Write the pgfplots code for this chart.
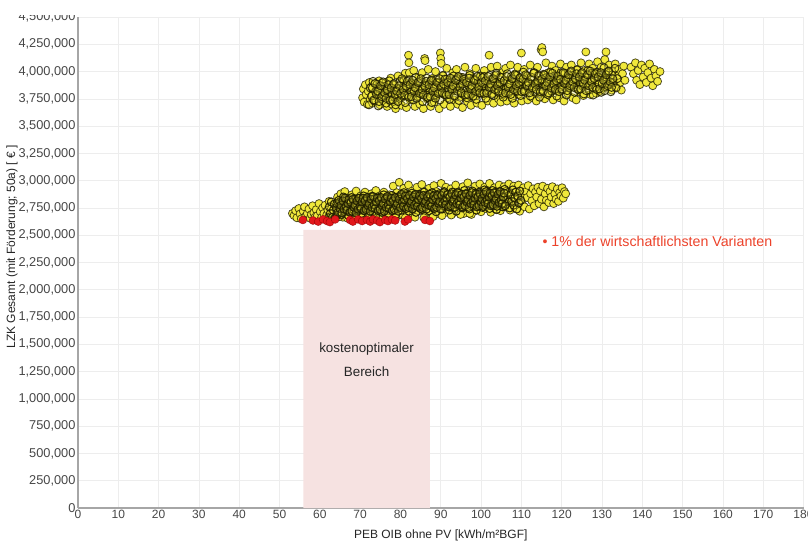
\documentclass[border=0pt]{standalone}
\usepackage{pgfplots}
\pgfplotsset{compat=1.18}
\usepackage{fontspec}
\setmainfont{Liberation Sans}
\definecolor{yel}{RGB}{240,232,60}
\definecolor{edge}{RGB}{32,30,0}
\definecolor{redpt}{RGB}{226,24,28}
\definecolor{pinkbg}{RGB}{246,226,225}
\definecolor{redtxt}{RGB}{236,66,42}
\definecolor{tickc}{RGB}{70,70,70}
\begin{document}
\begin{tikzpicture}
\useasboundingbox (0,0) rectangle (808pt,542pt);
\begin{axis}[
  at={(78pt,34pt)}, anchor=south west,
  scale only axis, width=725.5pt, height=491pt,
  xmin=0, xmax=180, ymin=0, ymax=4500,
  xtick={0,10,...,180},
  ytick={0,250,...,4500},
  yticklabels={0,{250,000},{500,000},{750,000},{1,000,000},{1,250,000},{1,500,000},{1,750,000},{2,000,000},{2,250,000},{2,500,000},{2,750,000},{3,000,000},{3,250,000},{3,500,000},{3,750,000},{4,000,000},{4,250,000},{4,500,000}},
  /pgf/number format/assume math mode=true,
  font=\fontsize{12}{14}\selectfont,
  xticklabel style={font=\fontsize{12}{14}\selectfont, text=tickc, yshift=1pt},
  yticklabel style={font=\fontsize{12.8}{14}\selectfont, text=tickc, xshift=1pt},
  major tick length=0pt,
  axis x line*=bottom, axis y line*=left,
  axis line style={draw=black!35, line width=1.2pt, -},
  grid=major,
  major grid style={draw=black!7, line width=0.6pt},
  every axis x label/.style={at={(axis description cs:0.5,-0.055)}, anchor=center},
  every axis y label/.style={at={(axis description cs:-0.091,0.532)}, rotate=90, anchor=center},
  xlabel={PEB OIB ohne PV [kWh/m²BGF]},
  ylabel={LZK Gesamt (mit Förderung; 50a) [ € ]},
  label style={font=\fontsize{12}{14}\selectfont, text=black!85},
  clip=false,
  yel/.style={only marks, mark=*, mark size=4pt, mark options={fill=yel, draw=edge, draw opacity=0.8, line width=0.75pt}},
  yelcore/.style={only marks, mark=*, mark size=4pt, mark options={fill=yel, fill opacity=0.28, draw=edge, draw opacity=0.88, line width=0.95pt}},
  yelcoredark/.style={only marks, mark=*, mark size=4pt, mark options={fill=yel, fill opacity=0.2, draw=edge, draw opacity=0.92, line width=1.05pt}},
]
% cost-optimal region
\addplot[fill=pinkbg, draw=none] coordinates {(55.9,0) (87.3,0) (87.3,2550) (55.9,2550)} \closedcycle;

% lower cluster (yellow)
\addplot[yel] coordinates {
(53.2,2700) (53.6,2680) (54.0,2725) (54.3,2660) (54.8,2745) (55.1,2695) (55.4,2650) (55.9,2720) (56.2,2760) (56.5,2675) (56.9,2700) (57.3,2740) (57.6,2655) (57.9,2690)
(58.2,2770) (58.5,2705) (58.8,2665) (59.1,2735) (59.4,2680) (59.8,2790) (60.1,2715) (60.4,2660) (60.7,2750) (61.0,2700) (61.3,2775) (61.7,2685) (62.0,2730) (62.3,2810) (62.6,2670) (62.9,2745) (63.2,2700) (63.5,2785) (63.8,2660) (64.1,2725)
(64.4,2850) (64.6,2690) (64.9,2770) (65.2,2880) (65.4,2730) (65.7,2665) (66.0,2810) (66.2,2900) (66.5,2745) (66.8,2690) (67.1,2840) (67.3,2775) (67.6,2660) (67.9,2870) (68.1,2720) (68.4,2800) (68.7,2680) (69.0,2905) (69.2,2755) (69.5,2830) (69.8,2700) (70.1,2860) (70.3,2665) (70.6,2790) (70.9,2740) (71.2,2895) (71.4,2815) (71.7,2690) (72.0,2850) (72.3,2760) (72.5,2675) (72.8,2880) (73.1,2805) (73.4,2720) (73.7,2840) (73.9,2910) (74.2,2700) (74.5,2785) (74.8,2860) (75.0,2670) (75.3,2825) (75.6,2750) (75.9,2895) (76.2,2710) (76.4,2840) (76.7,2780) (77.0,2680) (77.3,2870) (77.6,2800) (77.9,2735)
(78.2,2950) (78.5,2820) (78.8,2710) (79.1,2890) (79.4,2770) (79.7,2985) (80.0,2690) (80.2,2860) (80.5,2800) (80.8,2930) (81.1,2740) (81.4,2880) (81.7,2700) (82.0,2960) (82.3,2830) (82.6,2760) (82.9,2905) (83.2,2690) (83.5,2850) (83.8,2790) (84.1,2940) (84.4,2720) (84.7,2870) (85.0,2815) (85.3,2965) (85.6,2740) (85.9,2895) (86.2,2680) (86.5,2845) (86.8,2780) (87.1,2930) (87.4,2710) (87.7,2880) (88.0,2820) (88.3,2955) (88.6,2750) (88.9,2900) (89.2,2700) (89.5,2860) (89.8,2795) (90.1,2975) (90.4,2730) (90.7,2885) (91.0,2830) (91.3,2940) (91.6,2710) (91.9,2870) (92.2,2770) (92.5,2925) (92.8,2695) (93.1,2850) (93.4,2805) (93.7,2960) (94.0,2740) (94.3,2895) (94.6,2720) (94.9,2840) (95.2,2785) (95.5,2945) (95.8,2700) (96.1,2875) (96.4,2820) (96.7,2980) (97.0,2755) (97.3,2905) (97.6,2690) (97.9,2860) (98.2,2800) (98.5,2950) (98.8,2730) (99.1,2885) (99.4,2835) (99.7,2970) (100.0,2715)
(100.3,2870) (100.6,2795) (100.9,2940) (101.2,2745) (101.5,2900) (101.8,2830) (102.1,2975) (102.4,2710) (102.7,2860) (103.0,2780) (103.3,2935) (103.6,2740) (103.9,2890) (104.2,2815) (104.5,2960) (104.8,2725) (105.1,2875) (105.4,2800) (105.7,2945) (106.0,2760) (106.3,2905) (106.6,2840) (106.9,2970) (107.2,2730) (107.5,2880) (107.8,2810) (108.1,2950) (108.4,2750) (108.7,2895) (109.0,2835) (109.3,2960) (109.6,2720) (109.9,2870) (110.2,2790) (110.5,2935) (110.8,2760) (111.1,2900) (111.4,2845) (111.7,2955) (112.0,2740) (112.3,2880) (112.6,2815) (112.9,2925) (113.2,2770) (113.5,2895) (113.8,2850) (114.1,2940) (114.4,2790) (114.7,2905) (115.0,2830) (115.3,2950) (115.6,2760) (115.9,2880) (116.2,2820) (116.5,2930) (116.8,2800) (117.1,2900) (117.4,2850) (117.7,2945) (118.0,2790) (118.3,2880) (118.6,2830) (118.9,2925) (119.2,2810) (119.5,2890) (119.8,2860) (120.1,2935) (120.4,2840) (120.7,2900) (121.0,2880)
(65.5,2790) (66.6,2760) (67.7,2815) (68.8,2745) (69.9,2800) (71.0,2770) (72.1,2825) (73.2,2755) (74.3,2810) (75.4,2780) (76.5,2745) (77.6,2830) (78.7,2790) (79.8,2850) (80.9,2770) (82.0,2815) (83.1,2760) (84.2,2835) (85.3,2790) (86.4,2860) (87.5,2770) (88.6,2840) (89.7,2800) (90.8,2760) (91.9,2845) (93.0,2790) (94.1,2820) (95.2,2860) (96.3,2775) (97.4,2830) (98.5,2800) (99.6,2855) (100.7,2780) (101.8,2840) (102.9,2810) (104.0,2860) (105.1,2780) (106.2,2830) (107.3,2800) (108.4,2850)
(64.8,2670) (66.9,2655) (68.3,2650) (70.4,2660) (72.6,2650) (74.7,2655) (76.8,2660) (78.9,2665) (81.2,2660) (83.6,2665) (85.8,2660) (88.1,2670) (90.3,2680) (92.6,2685) (94.9,2690) (97.2,2700)
};
\addplot[yelcoredark] coordinates {
(62.1,2660) (62.35,2760) (62.6,2700) (62.85,2805) (63.1,2665) (63.35,2730) (63.6,2785) (63.85,2660) (64.1,2750) (64.35,2685) (64.6,2795) (64.85,2710)
(65.1,2810) (65.35,2690) (65.6,2780) (65.85,2850) (66.1,2715) (66.35,2760) (66.6,2820) (66.85,2735) (67.1,2680) (67.35,2800) (67.6,2740) (67.85,2845) (68.1,2705) (68.35,2770) (68.6,2825) (68.85,2670) (69.1,2790) (69.35,2725) (69.6,2835) (69.85,2750)
(70.1,2820) (70.35,2700) (70.6,2790) (70.85,2860) (71.1,2725) (71.35,2770) (71.6,2830) (71.85,2745) (72.1,2690) (72.35,2810) (72.6,2750) (72.85,2855) (73.1,2715) (73.35,2780) (73.6,2835) (73.85,2680) (74.1,2800) (74.35,2735) (74.6,2845) (74.85,2760)
(75.1,2830) (75.35,2710) (75.6,2800) (75.85,2870) (76.1,2735) (76.35,2780) (76.6,2840) (76.85,2755) (77.1,2700) (77.35,2820) (77.6,2760) (77.85,2865) (78.1,2725) (78.35,2790) (78.6,2845) (78.85,2690) (79.1,2810) (79.35,2745) (79.6,2855) (79.85,2770)
(80.1,2850) (80.35,2730) (80.6,2820) (80.85,2890) (81.1,2755) (81.35,2800) (81.6,2860) (81.85,2775) (82.1,2720) (82.35,2840) (82.6,2780) (82.85,2885) (83.1,2745) (83.35,2810) (83.6,2865) (83.85,2710) (84.1,2830) (84.35,2765) (84.6,2875) (84.85,2790)
(85.1,2855) (85.35,2735) (85.6,2825) (85.85,2895) (86.1,2760) (86.35,2805) (86.6,2865) (86.85,2780) (87.1,2725) (87.35,2845) (87.6,2785) (87.85,2890) (88.1,2750) (88.35,2815) (88.6,2870) (88.85,2715) (89.1,2835) (89.35,2770) (89.6,2880) (89.85,2795)
(90.1,2860) (90.35,2740) (90.6,2830) (90.85,2900) (91.1,2765) (91.35,2810) (91.6,2870) (91.85,2785) (92.1,2730) (92.35,2850) (92.6,2790) (92.85,2895) (93.1,2755) (93.35,2820) (93.6,2875) (93.85,2720) (94.1,2840) (94.35,2775) (94.6,2885) (94.85,2800)
(95.1,2870) (95.35,2750) (95.6,2840) (95.85,2910) (96.1,2775) (96.35,2820) (96.6,2880) (96.85,2795) (97.1,2740) (97.35,2860) (97.6,2800) (97.85,2905) (98.1,2765) (98.35,2830) (98.6,2885) (98.85,2730) (99.1,2850) (99.35,2785) (99.6,2895) (99.85,2810)
(100.1,2875) (100.35,2755) (100.6,2845) (100.85,2915) (101.1,2780) (101.35,2825) (101.6,2885) (101.85,2800) (102.1,2745) (102.35,2865) (102.6,2805) (102.85,2910) (103.1,2770) (103.35,2835) (103.6,2890) (103.85,2735) (104.1,2855) (104.35,2790) (104.6,2900) (104.85,2815)
(105.1,2880) (105.35,2760) (105.6,2850) (105.85,2920) (106.1,2785) (106.35,2830) (106.6,2890) (106.85,2805) (107.1,2750) (107.35,2870) (107.6,2810) (107.85,2915) (108.1,2775) (108.35,2840) (108.6,2895) (108.85,2740) (109.1,2860) (109.35,2795) (109.6,2905) (109.85,2820)
(64.22,2790) (64.47,2710) (64.72,2820) (64.97,2745) (65.22,2775) (65.47,2705) (65.72,2815) (65.97,2740) (66.22,2840) (66.47,2765) (66.72,2730) (66.97,2790) (67.22,2825) (67.47,2710) (67.72,2800) (67.97,2720) (68.22,2830) (68.47,2755) (68.72,2775) (68.97,2705) (69.22,2815) (69.47,2740) (69.72,2840) (69.97,2765)
(70.22,2745) (70.47,2805) (70.72,2840) (70.97,2725) (71.22,2815) (71.47,2735) (71.72,2845) (71.97,2770) (72.22,2790) (72.47,2720) (72.72,2830) (72.97,2755) (73.22,2855) (73.47,2780) (73.72,2745) (73.97,2805) (74.22,2840) (74.47,2725) (74.72,2815) (74.97,2735)
(75.22,2845) (75.47,2770) (75.72,2790) (75.97,2720) (76.22,2830) (76.47,2755) (76.72,2855) (76.97,2780) (77.22,2745) (77.47,2805) (77.72,2840) (77.97,2725) (78.22,2815) (78.47,2735) (78.72,2845) (78.97,2770) (79.22,2790) (79.47,2720) (79.72,2830) (79.97,2755)
(80.22,2875) (80.47,2800) (80.72,2765) (80.97,2825) (81.22,2860) (81.47,2745) (81.72,2835) (81.97,2755) (82.22,2865) (82.47,2790) (82.72,2810) (82.97,2740) (83.22,2850) (83.47,2775) (83.72,2875) (83.97,2800) (84.22,2765) (84.47,2825) (84.72,2860) (84.97,2745)
(85.22,2835) (85.47,2755) (85.72,2865) (85.97,2790) (86.22,2810) (86.47,2740) (86.72,2850) (86.97,2775) (87.22,2875) (87.47,2800) (87.72,2765) (87.97,2825) (88.22,2860) (88.47,2745) (88.72,2835) (88.97,2755) (89.22,2865) (89.47,2790) (89.72,2810) (89.97,2740)
(90.22,2865) (90.47,2790) (90.72,2890) (90.97,2815) (91.22,2780) (91.47,2840) (91.72,2875) (91.97,2760) (92.22,2850) (92.47,2770) (92.72,2880) (92.97,2805) (93.22,2825) (93.47,2755) (93.72,2865) (93.97,2790) (94.22,2890) (94.47,2815) (94.72,2780) (94.97,2840)
(95.22,2875) (95.47,2760) (95.72,2850) (95.97,2770) (96.22,2880) (96.47,2805) (96.72,2825) (96.97,2755) (97.22,2865) (97.47,2790) (97.72,2890) (97.97,2815) (98.22,2780) (98.47,2840) (98.72,2875) (98.97,2760) (99.22,2850) (99.47,2770) (99.72,2880) (99.97,2805)
(100.22,2835) (100.47,2765) (100.72,2875) (100.97,2800) (101.22,2900) (101.47,2825) (101.72,2790) (101.97,2850) (102.22,2885) (102.47,2770) (102.72,2860) (102.97,2780) (103.22,2890) (103.47,2815) (103.72,2835) (103.97,2765) (104.22,2875) (104.47,2800) (104.72,2900) (104.97,2825) (105.22,2790) (105.47,2850) (105.72,2885) (105.97,2770)
};

% upper cluster (yellow)
\addplot[yel] coordinates {
(70.6,3760) (70.8,3840) (71.0,3720) (71.3,3880) (71.5,3790) (71.8,3700) (72.0,3820) (72.3,3900) (72.5,3745) (72.8,3860) (73.1,3710) (73.3,3800) (73.6,3890) (73.9,3735) (74.1,3840) (74.4,3770) (74.7,3915) (74.9,3695) (75.2,3815) (75.5,3860) (75.8,3730)
(76.1,3790) (76.4,3900) (76.7,3680) (77.0,3845) (77.3,3760) (77.6,3940) (77.9,3700) (78.2,3820) (78.5,3880) (78.8,3660) (79.1,3775) (79.4,3960) (79.7,3730) (80.0,3850) (80.3,3690) (80.6,3920) (80.9,3800) (81.2,3985) (81.5,3670) (81.8,3860) (82.0,4150) (82.1,4080) (82.2,3990) (82.4,3740) (82.7,3900) (83.0,3810) (83.3,4010) (83.6,3680) (83.9,3870) (84.2,3770) (84.5,3950) (84.8,3700) (85.1,3835) (85.4,3990) (85.7,3660) (86.0,4120) (86.1,4100) (86.3,3890) (86.6,3750) (86.9,4020) (87.2,3800) (87.5,3680) (87.8,3935) (88.1,3850) (88.4,3720) (88.7,4000) (89.0,3780) (89.3,3900) (89.6,3660) (89.9,4170) (90.0,4120) (90.1,4075) (90.3,3840) (90.6,3960) (90.9,3700) (91.2,3870) (91.5,4030) (91.8,3760) (92.1,3920) (92.4,3680) (92.7,3820) (93.0,3990) (93.3,3740) (93.6,3880) (93.9,4020) (94.2,3700) (94.5,3850) (94.8,3950) (95.1,3770) (95.4,3670) (95.7,3910) (96.0,4040) (96.3,3800) (96.6,3725) (96.9,3870) (97.2,3980) (97.5,3690) (97.8,3830) (98.1,3940) (98.4,3760) (98.7,4030) (99.0,3710) (99.3,3880) (99.6,3800) (99.9,3960)
(100.2,3690) (100.5,3850) (100.8,4010) (101.1,3770) (101.4,3920) (101.7,3730) (102.0,4150) (102.2,3880) (102.5,4040) (102.8,3800) (103.1,3710) (103.4,3960) (103.7,3840) (104.0,4050) (104.3,3750) (104.6,3900) (104.9,3720) (105.2,3990) (105.5,3860) (105.8,3780) (106.1,4030) (106.4,3730) (106.7,3920) (107.0,3820) (107.3,4060) (107.6,3760) (107.9,3890) (108.2,3710) (108.5,3980) (108.8,3850) (109.1,4040) (109.4,3790) (109.7,3940) (110.0,4170) (110.1,3730) (110.4,3880) (110.7,4020) (111.0,3810) (111.3,3960) (111.6,3740) (111.9,3900) (112.2,4060) (112.5,3830) (112.8,3760) (113.1,3990) (113.4,3870) (113.7,3730) (114.0,4040) (114.3,3920) (114.6,3800) (114.9,4200) (115.1,4220) (115.3,4180) (115.5,3960) (115.8,3750) (116.1,4080) (116.4,3860) (116.7,3990) (117.0,3780) (117.3,3920) (117.6,4050) (117.9,3740) (118.2,3890) (118.5,4010) (118.8,3820) (119.1,3950) (119.4,3760) (119.7,4070) (120.0,3870) (120.3,3980) (120.6,3730) (120.9,3910) (121.2,4040) (121.5,3800) (121.8,3940) (122.1,3850) (122.4,4060) (122.7,3760) (123.0,3990) (123.3,3880) (123.6,3740) (123.9,4020) (124.2,3920) (124.5,3810) (124.8,4080)
(125.1,3950) (125.4,3780) (125.7,4010) (126.0,4180) (126.2,3870) (126.5,3960) (126.8,4070) (127.1,3790) (127.4,3930) (127.7,4030) (128.0,3850) (128.3,3990) (128.6,3800) (128.9,4090) (129.2,3900) (129.5,3820) (129.8,4040) (130.1,3940) (130.4,3850) (130.7,4110) (131.0,4180) (131.2,3990) (131.5,3880) (131.8,4060) (132.1,3910) (132.4,3830) (132.7,4000) (133.0,3930) (133.3,4070) (133.6,3860) (133.9,3960) (134.2,4020) (134.5,3900) (134.8,3830) (135.1,3980) (135.4,4050) (135.7,3920)
(137.2,4040) (137.8,3980) (138.3,4080) (138.6,3920) (139.0,4010) (139.4,3880) (139.8,4060) (140.2,3950) (140.6,4030) (141.0,3900) (141.4,3990) (141.8,4070) (142.2,3940) (142.6,3870) (143.0,4020) (143.4,3960) (143.8,3910) (144.4,4000)
(73.0,3780) (75.0,3800) (77.0,3790) (79.0,3820) (81.0,3780) (83.0,3840) (85.0,3800) (87.0,3850) (89.0,3810) (91.0,3790) (93.0,3860) (95.0,3820) (97.0,3780) (99.0,3870) (101.0,3830) (103.0,3890) (105.0,3820) (107.0,3880) (109.0,3850) (111.0,3900) (113.0,3840) (115.0,3890) (117.0,3860) (119.0,3910) (121.0,3870) (123.0,3900) (125.0,3880) (127.0,3920) (129.0,3890) (131.0,3930)
};
\addplot[yelcore] coordinates {
(72.2,3695) (72.5,3850) (72.8,3775) (73.2,3910) (73.5,3730) (73.8,3815) (74.2,3885) (74.5,3685) (74.8,3840) (75.2,3755) (75.5,3895) (75.8,3785) (76.2,3865) (76.5,3710) (76.8,3825) (77.2,3915) (77.5,3740) (77.8,3800) (78.2,3880) (78.5,3765) (78.8,3695) (79.2,3850) (79.5,3775) (79.8,3910)
(80.2,3760) (80.5,3845) (80.8,3915) (81.2,3715) (81.5,3870) (81.8,3785) (82.2,3925) (82.5,3815) (82.8,3895) (83.2,3740) (83.5,3855) (83.8,3945) (84.2,3770) (84.5,3830) (84.8,3910) (85.2,3795) (85.5,3725) (85.8,3880) (86.2,3805) (86.5,3940) (86.8,3760) (87.2,3845) (87.5,3915) (87.8,3715) (88.2,3870) (88.5,3785) (88.8,3925) (89.2,3815) (89.5,3895) (89.8,3740)
(90.2,3875) (90.5,3965) (90.8,3790) (91.2,3850) (91.5,3930) (91.8,3815) (92.2,3745) (92.5,3900) (92.8,3825) (93.2,3960) (93.5,3780) (93.8,3865) (94.2,3935) (94.5,3735) (94.8,3890) (95.2,3805) (95.5,3945) (95.8,3835) (96.2,3915) (96.5,3760) (96.8,3875) (97.2,3965) (97.5,3790) (97.8,3850) (98.2,3930) (98.5,3815) (98.8,3745) (99.2,3900) (99.5,3825) (99.8,3960)
(100.2,3800) (100.5,3885) (100.8,3955) (101.2,3755) (101.5,3910) (101.8,3825) (102.2,3965) (102.5,3855) (102.8,3935) (103.2,3780) (103.5,3895) (103.8,3985) (104.2,3810) (104.5,3870) (104.8,3950) (105.2,3835) (105.5,3765) (105.8,3920) (106.2,3845) (106.5,3980) (106.8,3800) (107.2,3885) (107.5,3955) (107.8,3755) (108.2,3910) (108.5,3825) (108.8,3965) (109.2,3855) (109.5,3935) (109.8,3780)
(110.2,3905) (110.5,3995) (110.8,3820) (111.2,3880) (111.5,3960) (111.8,3845) (112.2,3775) (112.5,3930) (112.8,3855) (113.2,3990) (113.5,3810) (113.8,3895) (114.2,3965) (114.5,3765) (114.8,3920) (115.2,3835) (115.5,3975) (115.8,3865) (116.2,3945) (116.5,3790) (116.8,3905) (117.2,3995) (117.5,3820) (117.8,3880) (118.2,3960) (118.5,3845) (118.8,3775) (119.2,3930) (119.5,3855) (119.8,3990)
(120.2,3830) (120.5,3915) (120.8,3985) (121.2,3785) (121.5,3940) (121.8,3855) (122.2,3995) (122.5,3885) (122.8,3965) (123.2,3810) (123.5,3925) (123.8,4015) (124.2,3840) (124.5,3900) (124.8,3980) (125.2,3865) (125.5,3795) (125.8,3950) (126.2,3875) (126.5,4010) (126.8,3830) (127.2,3915) (127.5,3985) (127.8,3785) (128.2,3940) (128.5,3855) (128.8,3995) (129.2,3885) (129.5,3965) (129.8,3810)
(130.2,3945) (130.5,4035) (130.8,3860) (131.2,3920) (131.5,4000) (131.8,3885) (132.2,3815) (132.5,3970) (132.8,3895) (133.2,4030) (133.5,3850) (133.8,3935)
(73.05,3850) (73.38,3740) (73.7,3890) (74.05,3790) (74.38,3820) (74.7,3725) (75.05,3870) (75.38,3770) (75.7,3905) (76.05,3805) (76.38,3755) (76.7,3835) (77.05,3880) (77.38,3735) (77.7,3850) (78.05,3740) (78.38,3890) (78.7,3790) (79.05,3820) (79.38,3725) (79.7,3870)
(80.05,3800) (80.38,3935) (80.7,3835) (81.05,3785) (81.38,3865) (81.7,3910) (82.05,3765) (82.38,3880) (82.7,3770) (83.05,3920) (83.38,3820) (83.7,3850) (84.05,3755) (84.38,3900) (84.7,3800) (85.05,3935) (85.38,3835) (85.7,3785) (86.05,3865) (86.38,3910) (86.7,3765) (87.05,3880) (87.38,3770) (87.7,3920) (88.05,3820) (88.38,3850) (88.7,3755) (89.05,3900) (89.38,3800) (89.7,3935)
(90.05,3855) (90.38,3805) (90.7,3885) (91.05,3930) (91.38,3785) (91.7,3900) (92.05,3790) (92.38,3940) (92.7,3840) (93.05,3870) (93.38,3775) (93.7,3920) (94.05,3820) (94.38,3955) (94.7,3855) (95.05,3805) (95.38,3885) (95.7,3930) (96.05,3785) (96.38,3900) (96.7,3790) (97.05,3940) (97.38,3840) (97.7,3870) (98.05,3775) (98.38,3920) (98.7,3820) (99.05,3955) (99.38,3855) (99.7,3805)
(100.05,3900) (100.38,3945) (100.7,3800) (101.05,3915) (101.38,3805) (101.7,3955) (102.05,3855) (102.38,3885) (102.7,3790) (103.05,3935) (103.38,3835) (103.7,3970) (104.05,3870) (104.38,3820) (104.7,3900) (105.05,3945) (105.38,3800) (105.7,3915) (106.05,3805) (106.38,3955) (106.7,3855) (107.05,3885) (107.38,3790) (107.7,3935) (108.05,3835) (108.38,3970) (108.7,3870) (109.05,3820) (109.38,3900) (109.7,3945)
(110.05,3815) (110.38,3930) (110.7,3820) (111.05,3970) (111.38,3870) (111.7,3900) (112.05,3805) (112.38,3950) (112.7,3850) (113.05,3985) (113.38,3885) (113.7,3835) (114.05,3915) (114.38,3960) (114.7,3815) (115.05,3930) (115.38,3820) (115.7,3970) (116.05,3870) (116.38,3900) (116.7,3805) (117.05,3950) (117.38,3850) (117.7,3985) (118.05,3885) (118.38,3835) (118.7,3915) (119.05,3960) (119.38,3815) (119.7,3930)
(120.05,3840) (120.38,3990) (120.7,3890) (121.05,3920) (121.38,3825) (121.7,3970) (122.05,3870) (122.38,4005) (122.7,3905) (123.05,3855) (123.38,3935) (123.7,3980) (124.05,3835) (124.38,3950) (124.7,3840) (125.05,3990) (125.38,3890) (125.7,3920) (126.05,3825) (126.38,3970) (126.7,3870) (127.05,4005) (127.38,3905) (127.7,3855) (128.05,3935) (128.38,3980) (128.7,3835) (129.05,3950) (129.38,3840) (129.7,3990) (130.05,3890) (130.38,3920) (130.7,3825) (131.05,3970) (131.38,3870) (131.7,4005) (132.05,3905) (132.38,3855) (132.7,3935)
};

% 1% most economical variants (red)
\addplot[only marks, mark=*, mark size=4pt, mark options={fill=redpt, draw=red!55!black, draw opacity=0.7, line width=0.5pt}] coordinates {
(55.8,2640) (58.3,2635) (59.6,2625) (60.8,2645) (61.8,2630) (62.5,2620) (63.8,2645) (67.5,2640) (68.2,2625) (69.5,2645) (70.5,2630) (71.7,2640) (72.5,2625) (73.2,2645) (74.2,2635) (74.9,2620) (76.2,2640) (76.9,2630) (77.9,2645) (78.7,2635) (81.1,2625) (81.9,2645) (86.1,2640) (87.3,2630)
};

\node[anchor=center, text=black!85, font=\fontsize{13.4}{15}\selectfont] at (axis cs:71.6,1457) {kostenoptimaler};
\node[anchor=center, text=black!85, font=\fontsize{13.4}{15}\selectfont] at (axis cs:71.6,1246) {Bereich};
\node[anchor=west, text=redtxt, font=\fontsize{14.2}{16}\selectfont, inner sep=0pt] at (axis cs:115.2,2447) {• 1\% der wirtschaftlichsten Varianten};
\end{axis}
\fill[white] (0,527pt) rectangle (77pt,542pt);
\end{tikzpicture}
\end{document}
